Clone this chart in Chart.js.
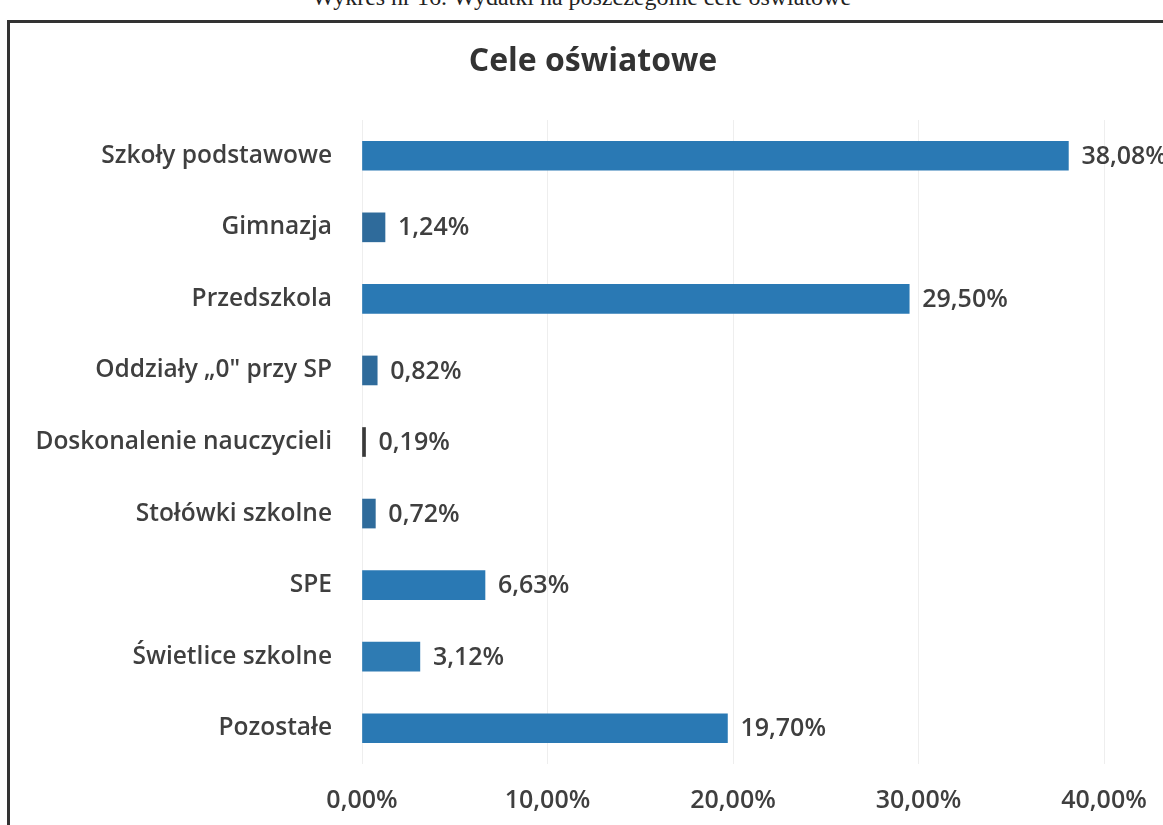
<!DOCTYPE html>
<html><head><meta charset="utf-8">
<script src="https://cdn.jsdelivr.net/npm/chart.js@4"></script>
<style>
html,body{margin:0;padding:0;background:#fff;}
#wrap{position:relative;width:1163px;height:825px;overflow:hidden;background:#fff;}
#cap{position:absolute;top:-16px;left:0;width:1163px;text-align:center;font-family:"Liberation Serif",serif;font-size:24px;color:#222;}
#frame{position:absolute;left:7px;top:20px;width:1160px;height:820px;border-top:3px solid #333;border-left:3px solid #333;}
canvas{position:absolute;left:0;top:0;}
</style></head>
<body><div id="wrap">
<div id="cap">Wykres nr 16. Wydatki na poszczególne cele oświatowe</div>
<div id="frame"></div>
<canvas id="c" width="1163" height="825"></canvas>
</div>
<script>
const categories = ["Szkoły podstawowe","Gimnazja","Przedszkola","Oddziały „0\" przy SP","Doskonalenie nauczycieli","Stołówki szkolne","SPE","Świetlice szkolne","Pozostałe"];
const values = [38.08,1.24,29.50,0.82,0.19,0.72,6.63,3.12,19.70];
const barColors = ["#2a79b4","#2f6b9b","#2a79b4","#2f6b9b","#3a3a3a","#2f6b9b","#2a79b4","#2e7bb3","#2a79b4"];
const tickValues = [0,10,20,30,40];
const chartTitle = "Cele oświatowe";
const FONT = "'Open Sans'";
const fmt = v => v.toFixed(2).replace('.', ',') + '%';

const extras = {
  id:'extras',
  afterDatasetsDraw(chart){
    const ctx = chart.ctx;
    const meta = chart.getDatasetMeta(0);
    ctx.save();
    ctx.font = "600 25px " + FONT;
    ctx.fillStyle = "#3f3f3f";
    ctx.textBaseline = "middle";
    ctx.textAlign = "left";
    meta.data.forEach((bar,i)=>{
      ctx.fillText(fmt(values[i]), bar.x + 13, bar.y + 1);
    });
    ctx.font = "bold 32px " + FONT;
    ctx.fillStyle = "#333";
    ctx.textAlign = "center";
    ctx.fillText(chartTitle, 593, 62);
    ctx.restore();
  }
};

new Chart(document.getElementById('c'),{
  type:'bar',
  data:{labels:categories,datasets:[{data:values,backgroundColor:barColors,barThickness:29}]},
  options:{
    indexAxis:'y',
    responsive:false,
    animation:false,
    layout:{padding:{left:0,right:59,top:120,bottom:0}},
    plugins:{
      legend:{display:false},
      tooltip:{enabled:false},
      title:{display:false}
    },
    scales:{
      x:{min:0,max:40,
        afterBuildTicks(s){ s.ticks = tickValues.map(v=>({value:v})); },
        afterFit(s){ s.height = 61; s.paddingRight = 0; },
        grid:{color:'#eeeeee',drawTicks:false},
        border:{display:false},
        ticks:{padding:22,color:'#3f3f3f',font:{family:FONT,size:25,weight:'600'},callback:v=>fmt(v)}
      },
      y:{
        afterFit(s){ s.width = 362; },
        grid:{display:false},
        border:{display:false},
        ticks:{padding:22,color:'#3f3f3f',font:{family:FONT,size:24.5,weight:'600'}}
      }
    }
  },
  plugins:[extras]
});
</script></body></html>
